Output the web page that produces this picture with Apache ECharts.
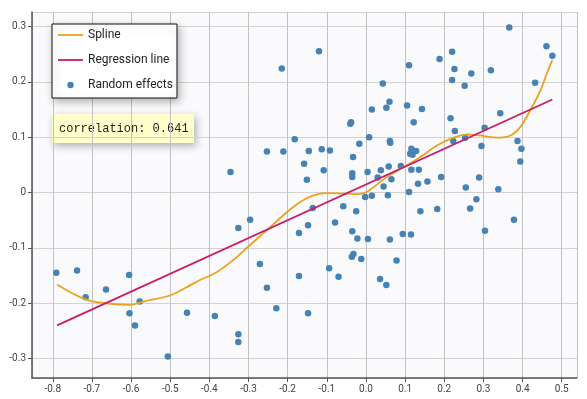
<!DOCTYPE html>
<html>
<head>
<meta charset="utf-8">
<script src="https://cdn.jsdelivr.net/npm/echarts@6/dist/echarts.min.js"></script>
<style>
  html, body { margin: 0; padding: 0; background: #fff; }
  #chart { width: 587px; height: 399px; }
</style>
</head>
<body>
<div id="chart"></div>
<script>
// random effects (x, y)
const effectX = [
  -0.791, -0.738, -0.716, -0.664, -0.605, -0.578, -0.604, -0.590, -0.506, -0.457,
  -0.386, -0.326, -0.326, -0.326, -0.296, -0.271, -0.253, -0.229, -0.171, -0.148,
  -0.136, -0.171, -0.148, -0.094, -0.070, -0.079, -0.058, -0.025, -0.035, -0.022,
  0.005, -0.036, -0.032, -0.012, 0.036, -0.120, -0.215, 0.015, -0.040, -0.038,
  0.008, -0.182, -0.253, -0.211, -0.146, -0.113, -0.092, -0.017, -0.033, -0.158,
  -0.346, -0.108, -0.035, -0.035, 0.004, -0.151, 0.038, 0.030, -0.002, 0.015,
  0.366, 0.461, 0.476, 0.220, 0.188, 0.110, 0.226, 0.319, 0.269, 0.220,
  0.043, 0.252, 0.432, 0.060, 0.052, 0.105, 0.143, 0.343, 0.122, 0.216,
  0.227, 0.303, 0.061, 0.062, 0.223, 0.253, 0.387, 0.397, 0.295, 0.394,
  0.116, 0.128, 0.119, 0.113, 0.089, 0.058, 0.116, 0.135, 0.192, 0.289,
  0.065, 0.157, 0.133, 0.045, 0.255, 0.110, 0.338, 0.056, 0.282, 0.266,
  0.182, 0.139, 0.378, 0.304, 0.094, 0.115, 0.061, 0.078, 0.052
]
const effectY = [
  -0.145, -0.141, -0.189, -0.175, -0.149, -0.197, -0.218, -0.240, -0.296, -0.217,
  -0.223, -0.256, -0.270, -0.064, -0.049, -0.129, -0.172, -0.209, -0.073, -0.059,
  -0.028, -0.151, -0.218, -0.137, -0.152, -0.054, -0.025, -0.034, -0.070, -0.083,
  -0.084, -0.116, -0.111, -0.120, -0.156, 0.255, 0.224, 0.150, 0.124, 0.127,
  0.100, 0.096, 0.074, 0.074, 0.075, 0.078, 0.076, 0.088, 0.064, 0.052,
  0.037, 0.040, 0.035, 0.028, 0.037, 0.023, 0.040, 0.027, -0.008, -0.006,
  0.298, 0.264, 0.247, 0.254, 0.241, 0.230, 0.223, 0.221, 0.215, 0.203,
  0.197, 0.193, 0.198, 0.164, 0.153, 0.157, 0.151, 0.143, 0.127, 0.134,
  0.111, 0.117, 0.093, 0.090, 0.093, 0.099, 0.093, 0.079, 0.084, 0.056,
  0.079, 0.075, 0.068, 0.070, 0.048, 0.047, 0.041, 0.041, 0.028, 0.027,
  0.024, 0.020, 0.016, 0.011, 0.009, 0.001, 0.006, -0.005, -0.012, -0.029,
  -0.030, -0.034, -0.049, -0.069, -0.075, -0.076, -0.085, -0.123, -0.167
]

// spline
const splineX = [
  -0.789, -0.716, -0.664, -0.603, -0.569, -0.501, -0.458, -0.424, -0.386, -0.339,
  -0.301, -0.253, -0.211, -0.168, -0.134, -0.100, -0.058, -0.023, 0.002, 0.036,
  0.053, 0.096, 0.139, 0.181, 0.224, 0.258, 0.292, 0.335, 0.369, 0.394,
  0.420, 0.446, 0.462, 0.476
]
const splineY = [
  -0.166, -0.193, -0.200, -0.203, -0.197, -0.186, -0.171, -0.158, -0.146, -0.122,
  -0.098, -0.068, -0.041, -0.017, -0.005, -0.001, -0.002, -0.003, 0.001, 0.019,
  0.028, 0.046, 0.064, 0.085, 0.099, 0.105, 0.103, 0.099, 0.103, 0.118,
  0.149, 0.185, 0.215, 0.239
]

// regression line end points
const regX = [-0.789, 0.476]
const regY = [-0.240, 0.168]

const correlation = 'correlation: 0.641'

const zip = (a, b) => a.map((v, i) => [v, b[i]])

// legend icons (box 25x14)
const lineIcon = 'path://M0,0M25,14M0,6.1H25V7.9H0Z'
const dotIcon = 'path://M0,0M25,14M12.5,3.8A3.2,3.2,0,1,1,12.5,10.2A3.2,3.2,0,1,1,12.5,3.8Z'

const chart = echarts.init(document.getElementById('chart'))

chart.setOption({
  animation: false,
  backgroundColor: '#fff',
  textStyle: { fontFamily: 'Roboto' },
  grid: {
    left: 32,
    right: 10,
    top: 12,
    bottom: 21,
    show: true,
    backgroundColor: '#fafafd',
    borderWidth: 0
  },
  xAxis: {
    type: 'value',
    min: -0.853,
    max: 0.539,
    minInterval: 0.1,
    maxInterval: 0.1,
    axisLine: { onZero: false, lineStyle: { color: '#555', width: 1.5 } },
    axisTick: { length: 4, lineStyle: { color: '#555' } },
    axisLabel: {
      margin: 6,
      fontSize: 10,
      color: '#444',
      showMinLabel: false,
      showMaxLabel: false,
      formatter: v => v.toFixed(1)
    },
    splitLine: { lineStyle: { color: '#c2c2c2' } }
  },
  yAxis: {
    type: 'value',
    min: -0.335,
    max: 0.326,
    minInterval: 0.1,
    maxInterval: 0.1,
    axisLine: { show: true, onZero: false, lineStyle: { color: '#555', width: 1.5 } },
    axisTick: { show: true, length: 4, lineStyle: { color: '#555' } },
    axisLabel: {
      margin: 6,
      fontSize: 10,
      color: '#444',
      showMinLabel: false,
      showMaxLabel: false
    },
    splitLine: { lineStyle: { color: '#d2d2d2' } }
  },
  legend: {
    orient: 'vertical',
    left: 52,
    top: 24,
    padding: [4, 4, 6, 6],
    itemGap: 11,
    itemWidth: 25,
    itemHeight: 14,
    backgroundColor: '#fff',
    borderColor: '#111',
    borderWidth: 1,
    shadowBlur: 8,
    shadowColor: 'rgba(0,0,0,0.3)',
    shadowOffsetX: 2,
    shadowOffsetY: 3,
    textStyle: { fontSize: 12, color: '#222', fontFamily: 'Roboto' },
    data: [
      { name: 'Spline', icon: lineIcon },
      { name: 'Regression line', icon: lineIcon },
      { name: 'Random effects', icon: dotIcon }
    ]
  },
  graphic: [
    {
      type: 'group',
      left: 52,
      top: 114,
      children: [
        {
          type: 'rect',
          shape: { x: 0, y: 0, width: 142, height: 29 },
          style: {
            fill: '#ffffcc',
            shadowBlur: 8,
            shadowColor: 'rgba(0,0,0,0.3)',
            shadowOffsetX: 2,
            shadowOffsetY: 3
          }
        },
        {
          type: 'text',
          x: 7,
          y: 14.5,
          style: {
            text: correlation,
            fill: '#222',
            font: '12px "Liberation Mono", "Courier New", monospace',
            verticalAlign: 'middle'
          }
        }
      ]
    }
  ],
  series: [
    {
      name: 'Random effects',
      type: 'scatter',
      symbolSize: 6.5,
      itemStyle: { color: '#4682b4', opacity: 1 },
      data: zip(effectX, effectY),
      z: 2
    },
    {
      name: 'Spline',
      type: 'line',
      smooth: 0.4,
      symbol: 'none',
      lineStyle: { color: '#eba21e', width: 1.8 },
      itemStyle: { color: '#eba21e' },
      data: zip(splineX, splineY),
      z: 3
    },
    {
      name: 'Regression line',
      type: 'line',
      symbol: 'none',
      lineStyle: { color: '#c71e67', width: 1.8 },
      itemStyle: { color: '#c71e67' },
      data: zip(regX, regY),
      z: 3
    }
  ]
})
</script>
</body>
</html>
